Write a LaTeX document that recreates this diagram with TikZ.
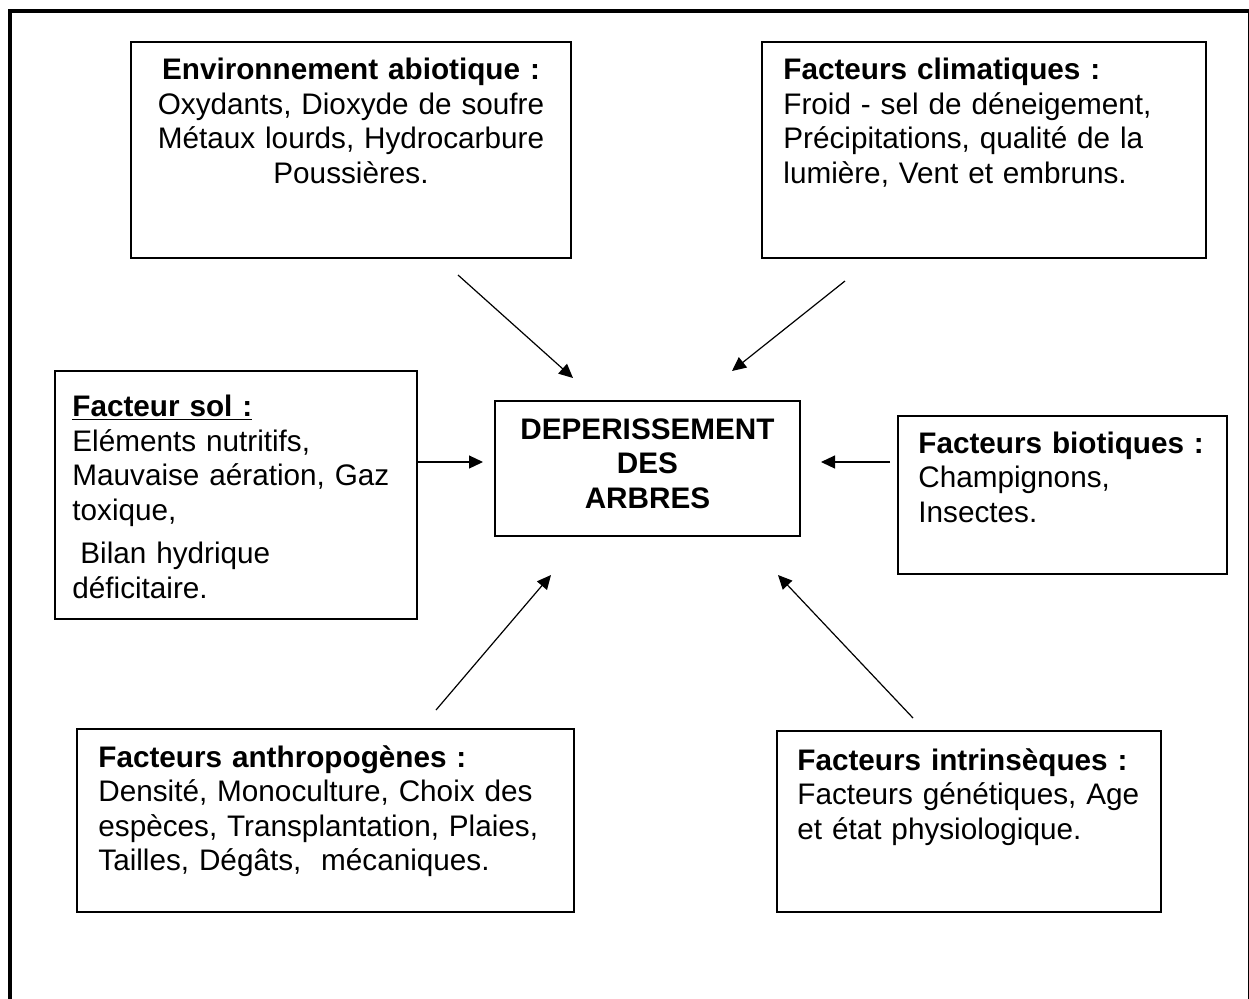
\documentclass[tikz,border=0pt]{standalone}
\usepackage{fontspec}
\setmainfont{Liberation Sans}
\usetikzlibrary{arrows.meta,fit}
\tikzset{
  box/.style={draw=black, line width=0.75pt, inner sep=0pt},
  txt/.style={inner sep=0pt, font=\fontsize{14.85pt}{17.25pt}\selectfont, align=left, anchor=base west},
  ctxt/.style={inner sep=0pt, font=\fontsize{14.85pt}{17.25pt}\selectfont, align=center, anchor=base},
  arr/.style={line width=0.6pt, -{Triangle[length=7pt,width=6.5pt]}},
  frameline/.style={line width=2pt}
}
\begin{document}
\begin{tikzpicture}[x=0.5pt,y=-0.5pt]
\useasboundingbox (0,0) rectangle (1249,998);
\draw[frameline] (10,10.5) rectangle (1250,1012);
% boxes
\node[box, fit={(131,42)(571,258)}] (env) {};
\node[box, fit={(762,42)(1206,258)}] (clim) {};
\node[box, fit={(55,371)(417,619)}] (sol) {};
\node[box, fit={(495,401)(800,536)}] (dep) {};
\node[box, fit={(898,416)(1227,574)}] (bio) {};
\node[box, fit={(77,729)(574,912)}] (anthro) {};
\node[box, fit={(777,731)(1161,912)}] (intr) {};
% texts
\node[ctxt, text width=220pt] (envt) at (351,79.5) {\textbf{Environnement abiotique :}\\Oxydants, Dioxyde de soufre\\Métaux lourds, Hydrocarbure\\Poussières.};
\node[txt, text width=205pt] (climt) at (783,79.5) {\textbf{Facteurs climatiques :}\\Froid - sel de déneigement,\\Précipitations, qualité de la\\lumière, Vent et embruns.};
\node[txt, text width=170pt] (solt) at (72,416.5) {\underline{\textbf{Facteur sol :}}\\Eléments nutritifs,\\Mauvaise aération, Gaz\\toxique,\\[4.5pt]\hspace*{4pt}Bilan hydrique\\déficitaire.};
\node[ctxt, text width=150pt, font=\fontsize{14.85pt}{17.25pt}\selectfont\bfseries] (dept) at (647.5,439) {DEPERISSEMENT\\DES\\ARBRES};
\node[txt, text width=150pt] (biot) at (918,453) {\textbf{Facteurs biotiques :}\\Champignons,\\Insectes.};
\node[txt, text width=235pt] (anthrot) at (98,767) {\textbf{Facteurs anthropogènes :}\\Densité, Monoculture, Choix des\\espèces, Transplantation, Plaies,\\Tailles, Dégâts, \ mécaniques.};
\node[txt, text width=180pt] (intrt) at (797,770) {\textbf{Facteurs intrinsèques :}\\Facteurs génétiques, Age\\et état physiologique.};
% arrow end points
\coordinate (a1s) at (458,275);  \coordinate (a1e) at (573,378);
\coordinate (a2s) at (845,281);  \coordinate (a2e) at (732,371);
\coordinate (a3s) at (417,462);  \coordinate (a3e) at (483,462);
\coordinate (a4s) at (890,462);  \coordinate (a4e) at (821,462);
\coordinate (a5s) at (436,710);  \coordinate (a5e) at (551,575);
\coordinate (a6s) at (913,718);  \coordinate (a6e) at (778,575);
\draw[arr] (a1s) -- (a1e);
\draw[arr] (a2s) -- (a2e);
\draw[arr] (a3s) -- (a3e);
\draw[arr] (a4s) -- (a4e);
\draw[arr] (a5s) -- (a5e);
\draw[arr] (a6s) -- (a6e);
\end{tikzpicture}
\end{document}
